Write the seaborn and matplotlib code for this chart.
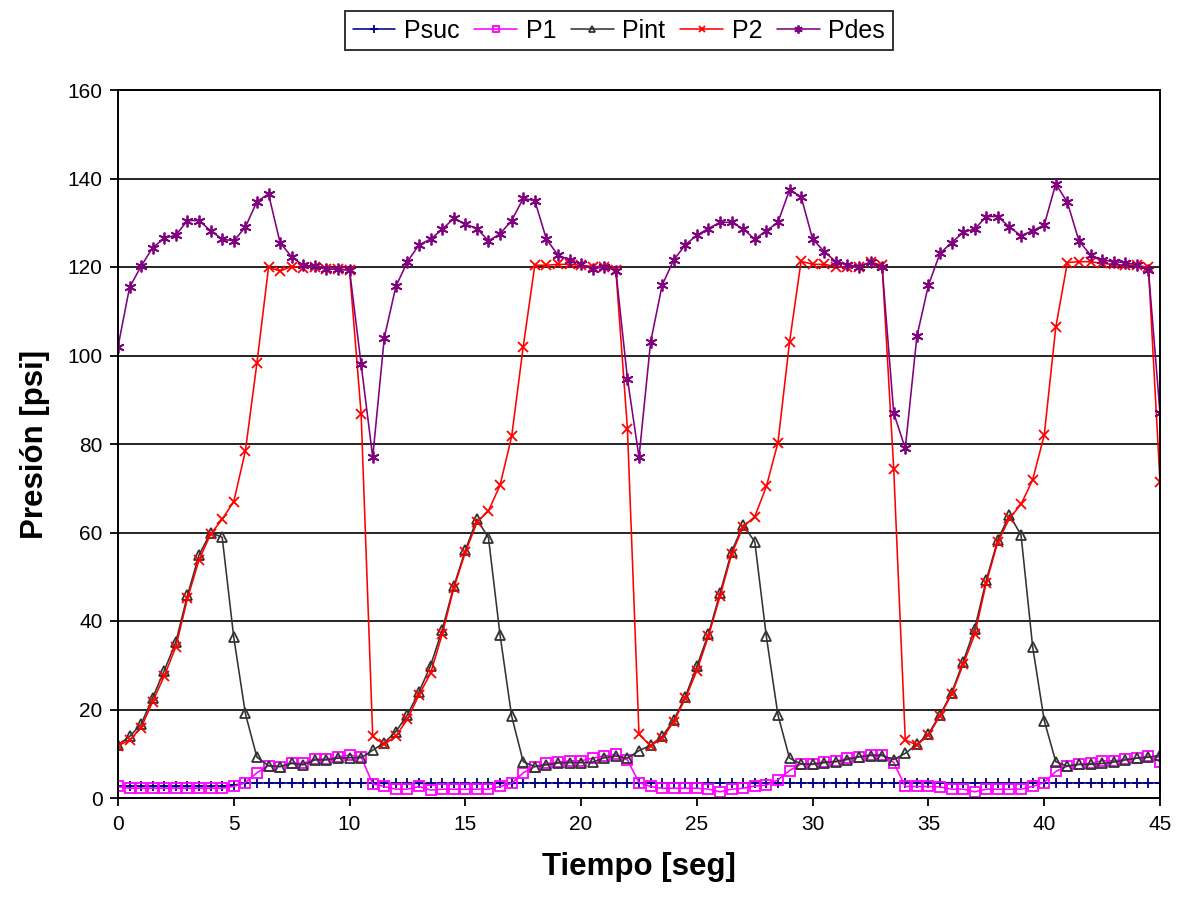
import numpy as np
import pandas as pd
import matplotlib
matplotlib.use("Agg")
import matplotlib.pyplot as plt
import seaborn as sns

# Time axis: one sample every 0.5 s from 0 to 45 s
tiempo = np.arange(0, 45.01, 0.5)

psuc = [2.6, 2.6, 2.6, 2.6, 2.6, 2.6, 2.6, 2.6, 2.6, 2.6, 2.9, 3.4, 3.4, 3.4, 3.4, 3.4,
        3.4, 3.4, 3.4, 3.4, 3.4, 3.4, 3.4, 3.3, 3.3, 3.3, 3.3, 3.3, 3.3, 3.3, 3.3, 3.3,
        3.3, 3.3, 3.3, 3.4, 3.4, 3.4, 3.4, 3.4, 3.4, 3.4, 3.4, 3.4, 3.4, 3.4, 3.4, 3.4,
        3.4, 3.4, 3.4, 3.4, 3.4, 3.4, 3.4, 3.4, 3.4, 3.4, 3.4, 3.4, 3.4, 3.4, 3.4, 3.4,
        3.4, 3.4, 3.4, 3.4, 3.4, 3.4, 3.4, 3.4, 3.4, 3.4, 3.4, 3.4, 3.4, 3.4, 3.4, 3.4,
        3.4, 3.4, 3.4, 3.4, 3.4, 3.4, 3.4, 3.4, 3.4, 3.4, 3.4]

p1 = [2.6, 2.2, 2.2, 2.2, 2.2, 2.2, 2.2, 2.2, 2.2, 2.2, 2.6, 3.5, 5.7, 7.3, 7.1, 8.0,
      7.8, 8.8, 8.8, 9.3, 9.7, 9.3, 3.2, 2.6, 2.0, 2.0, 2.6, 1.8, 2.0, 2.0, 2.0, 2.0,
      2.0, 2.6, 3.3, 5.7, 7.1, 7.8, 8.1, 8.4, 8.4, 9.0, 9.5, 9.9, 8.6, 3.5, 2.6, 2.2,
      2.2, 2.2, 2.2, 2.0, 1.4, 2.0, 2.2, 2.7, 2.9, 4.1, 6.2, 7.7, 7.7, 8.2, 8.3, 9.0,
      9.3, 9.8, 9.8, 8.0, 2.6, 2.6, 2.6, 2.5, 2.0, 2.0, 1.4, 2.0, 2.0, 2.0, 2.0, 2.6,
      3.5, 6.0, 7.2, 7.6, 7.8, 8.4, 8.4, 8.8, 9.0, 9.5, 8.2]

pint = [12.0, 13.9, 16.7, 22.7, 28.8, 35.3, 45.8, 54.9, 60.0, 58.9, 36.3, 19.1, 9.2, 7.3,
        7.1, 7.8, 7.5, 8.6, 8.6, 9.0, 9.1, 9.1, 10.8, 12.5, 15.0, 18.8, 24.0, 29.9, 38.0,
        47.8, 56.0, 63.0, 58.8, 36.8, 18.5, 8.2, 7.1, 7.5, 7.9, 8.0, 8.0, 8.1, 9.1, 9.5,
        9.0, 10.7, 11.9, 13.9, 17.6, 22.9, 29.8, 37.1, 46.3, 55.7, 61.7, 57.9, 36.5, 18.8,
        9.0, 7.7, 7.6, 8.0, 8.2, 8.7, 9.3, 9.6, 9.6, 8.7, 10.1, 12.1, 14.5, 18.8, 23.7,
        30.8, 38.3, 49.3, 58.4, 64.0, 59.4, 34.2, 17.5, 8.2, 7.2, 7.6, 7.6, 7.8, 8.1, 8.6,
        9.0, 9.2, 9.7]

p2 = [11.8, 13.1, 15.9, 21.8, 27.6, 34.2, 45.1, 53.8, 59.6, 63.0, 67.0, 78.4, 98.3, 119.9,
      119.1, 120.1, 119.8, 120.1, 119.5, 119.5, 119.3, 86.8, 13.9, 12.1, 14.0, 17.8, 23.3,
      28.2, 37.0, 47.4, 55.5, 62.3, 64.9, 70.7, 81.7, 102.0, 120.4, 120.4, 120.6, 120.6,
      120.4, 120.1, 120.1, 119.3, 83.5, 14.4, 11.8, 13.5, 17.2, 22.5, 28.8, 36.6, 45.6,
      55.1, 61.3, 63.6, 70.4, 80.3, 103.0, 121.3, 120.6, 120.6, 120.1, 119.9, 120.1,
      121.1, 120.4, 74.4, 13.1, 12.0, 14.2, 18.6, 23.4, 30.2, 37.0, 48.7, 57.9, 63.2,
      66.4, 71.9, 82.0, 106.4, 121.0, 121.2, 121.2, 120.8, 120.6, 120.4, 120.4, 119.9,
      71.5]

pdes = [102.0, 115.4, 120.2, 124.4, 126.5, 127.2, 130.5, 130.5, 128.2, 126.3, 125.9, 129.0,
        134.8, 136.5, 125.5, 122.3, 120.4, 120.2, 119.5, 119.5, 119.3, 98.0, 77.0, 104.0,
        115.6, 121.2, 125.0, 126.3, 128.5, 131.0, 129.7, 128.7, 125.9, 127.5, 130.5, 135.5,
        135.0, 126.3, 122.7, 121.6, 120.6, 119.5, 120.1, 119.2, 94.8, 77.0, 103.0, 115.9,
        121.6, 125.0, 127.2, 128.7, 130.1, 130.1, 128.6, 126.3, 128.2, 130.1, 137.4, 135.9,
        126.3, 123.5, 121.2, 120.5, 120.1, 121.1, 119.9, 87.0, 79.0, 104.3, 115.9, 123.1,
        125.5, 127.8, 128.6, 131.4, 131.4, 129.0, 127.1, 128.2, 129.5, 138.8, 134.6, 125.9,
        122.7, 121.6, 121.2, 121.0, 120.5, 119.3, 87.0]

series_names = ["Psuc", "P1", "Pint", "P2", "Pdes"]
series_values = [psuc, p1, pint, p2, pdes]
series_colors = ["#000080", "#FF00FF", "#333333", "#FF0000", "#800080"]
series_markers = ["+", "s", "^", "x", (6, 2, 0)]
series_msize = [7.5, 6.5, 6.5, 7, 8.5]

x_ticks = np.arange(0, 46, 5)
y_ticks = np.arange(0, 161, 20)

sns.set_style("white")
plt.rcParams["font.family"] = ["Liberation Sans", "DejaVu Sans"]
plt.rcParams["text.color"] = "black"
plt.rcParams["axes.labelcolor"] = "black"
plt.rcParams["xtick.color"] = "black"
plt.rcParams["ytick.color"] = "black"

fig = plt.figure(figsize=(11.81, 9.01), dpi=100)
ax = fig.add_axes([118 / 1181, 1 - 798 / 901, (1160 - 118) / 1181, (798 - 90) / 901])

for name, vals, col, mk, ms in zip(series_names, series_values, series_colors,
                                   series_markers, series_msize):
    df = pd.DataFrame({"Tiempo": tiempo, "Presion": vals})
    sns.lineplot(data=df, x="Tiempo", y="Presion", ax=ax, color=col, label=name,
                 estimator=None, sort=False, linewidth=1.15, marker=mk,
                 markersize=ms, markeredgecolor=col, markerfacecolor="none",
                 markeredgewidth=1.3)

ax.set_xlim(0, 45)
ax.set_ylim(0, 160)
ax.set_xticks(x_ticks)
ax.set_yticks(y_ticks)
ax.yaxis.grid(True, color="black", linewidth=1.2)
ax.xaxis.grid(False)
ax.set_axisbelow(True)
for sp in ax.spines.values():
    sp.set_color("black")
    sp.set_linewidth(1.4)
ax.tick_params(axis="both", direction="out", length=6, width=1.3, color="black",
               labelsize=15, labelcolor="black")
ax.tick_params(axis="x", pad=6, bottom=True)
ax.tick_params(axis="y", pad=5, left=True)

ax.set_xlabel("Tiempo [seg]", fontsize=22.5, fontweight="bold", labelpad=13,
              color="black")
ax.set_ylabel("Presión [psi]", fontsize=22.5, fontweight="bold", labelpad=13,
              color="black")

handles, labels = ax.get_legend_handles_labels()
ax.legend_.remove()
leg = fig.legend(handles, labels, loc="center", bbox_to_anchor=(0.524, 0.9656),
                 ncol=5, fontsize=18, frameon=True, fancybox=False, shadow=False,
                 handlelength=1.7, handletextpad=0.35, columnspacing=0.6,
                 borderpad=0.3, markerscale=0.7, borderaxespad=0)
leg.get_frame().set_edgecolor("black")
leg.get_frame().set_linewidth(1.4)
for txt in leg.get_texts():
    txt.set_color("black")

fig.savefig("out.png", dpi=100, facecolor="white")
